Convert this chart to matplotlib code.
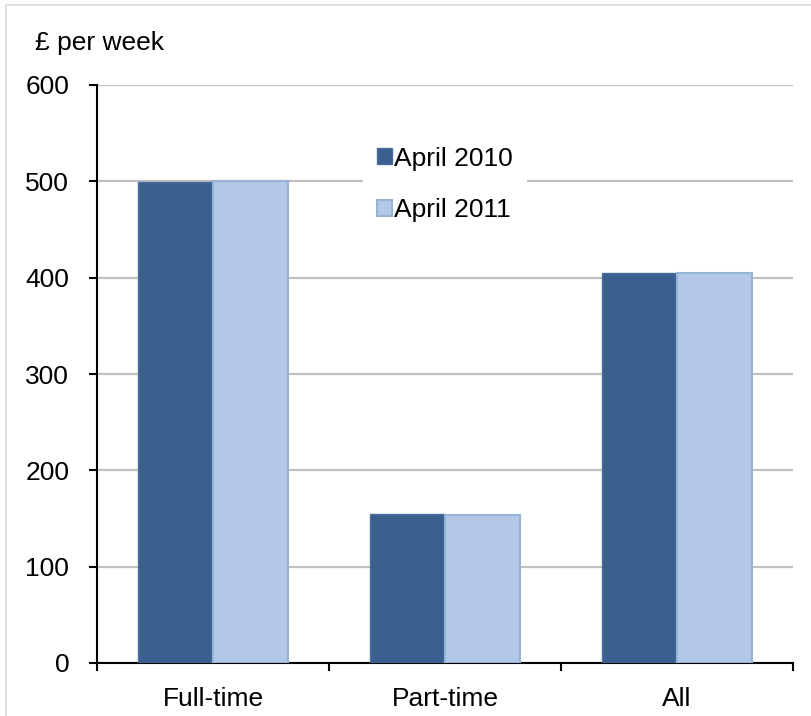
import matplotlib
matplotlib.use("Agg")
import matplotlib.pyplot as plt
import numpy as np
from matplotlib.patches import Rectangle

categories = ["Full-time", "Part-time", "All"]
series_names = ["April 2010", "April 2011"]
values_2010 = [499, 155, 405]
values_2011 = [500, 154, 405]
y_ticks = [0, 100, 200, 300, 400, 500, 600]
y_label = "£ per week"

plt.rcParams['font.family'] = ['Liberation Sans', 'DejaVu Sans']
FS = 19

fig = plt.figure(figsize=(8.12, 7.16), dpi=100)
fig.patches.append(Rectangle((6/812, -0.1), 1.2, 1 - 5/716 + 0.1, transform=fig.transFigure,
                             fill=False, edgecolor='#d9d9d9', linewidth=1.2))
ax = fig.add_axes([97/812, 1 - 663/716, (793 - 97)/812, (663 - 85)/716])

x = np.arange(len(categories))
w = 0.322
dark = '#3B5F8F'
light = '#B3C7E6'
ax.bar(x - w/2, values_2010, width=w, color=dark, edgecolor='#4A6E9E', linewidth=1.0,
       label=series_names[0], zorder=3)
ax.bar(x + w/2, values_2011, width=w, color=light, edgecolor='#95B3D7', linewidth=1.5,
       label=series_names[1], zorder=3)

ax.set_xlim(-0.5, len(categories) - 0.5)
ax.set_ylim(0, 600)
ax.set_yticks(y_ticks)
ax.set_yticklabels([str(t) for t in y_ticks], fontsize=FS)
ax.set_xticks(x)
ax.set_xticklabels(categories, fontsize=FS)
ax.set_xticks(np.arange(len(categories) + 1) - 0.5, minor=True)
ax.tick_params(axis='x', which='major', length=0, pad=17)
ax.tick_params(axis='x', which='minor', length=6, width=1.5, direction='out', color='black')
ax.tick_params(axis='y', which='major', length=6, width=1.5, direction='out', pad=14, color='black')

ax.yaxis.grid(True, color='#c0c0c0', linewidth=1.6, zorder=0)
ax.set_axisbelow(True)
for s in ['top', 'right']:
    ax.spines[s].set_visible(False)
ax.spines['left'].set_linewidth(1.5)
ax.spines['bottom'].set_linewidth(1.5)

leg = ax.legend(loc='center', bbox_to_anchor=(0.5, 0.828), fontsize=FS, frameon=True,
                facecolor='white', edgecolor='none', framealpha=1, fancybox=False,
                handlelength=0.55, handleheight=0.55, handletextpad=0.08, labelspacing=1.05,
                borderpad=0.55, borderaxespad=0)

fig.text(35/812, 1 - 43/716, y_label, fontsize=FS, ha='left', va='center')

fig.savefig("out.png", dpi=100, facecolor='white')
